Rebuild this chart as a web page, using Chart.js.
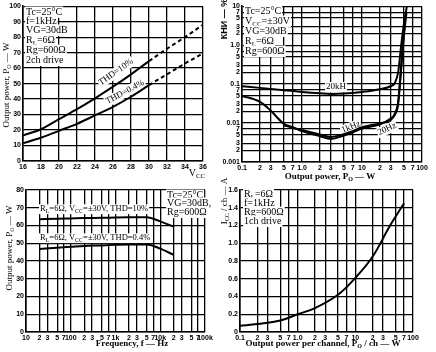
<!DOCTYPE html>
<html>
<head>
<meta charset="utf-8">
<script src="https://cdn.jsdelivr.net/npm/chart.js@4.4.1/dist/chart.umd.min.js"></script>
<style>
  html, body { margin: 0; padding: 0; background: #fff; }
  #wrap { position: relative; width: 436px; height: 352px; overflow: hidden; }
  canvas { position: absolute; left: 0; top: 0; }
</style>
</head>
<body>
<div id="wrap">
  <canvas id="vccChart" width="436" height="352"></canvas>
  <canvas id="thdChart" width="436" height="352"></canvas>
  <canvas id="freqChart" width="436" height="352"></canvas>
  <canvas id="iccChart" width="436" height="352"></canvas>
</div>
<script>
// ==============================
// Datos
// ==============================

// Arriba izquierda: potencia de salida vs VCC
const vccTicks = [16, 18, 20, 22, 24, 26, 28, 30, 32, 34, 36];
const poTicks = [0, 10, 20, 30, 40, 50, 60, 70, 80, 90, 100];
const vcc = [16, 18, 20, 22, 24, 26, 28, 30, 32, 34, 36];
const poThd10 = [16.5, 20.5, 27, 33.5, 40.5, 48, 56, 64.5, 72.5, 80, 88];
const poThd04 = [11.5, 15, 19.5, 24, 29.5, 35, 41.5, 49, 56, 63, 69.5];

// Arriba derecha: КНИ vs potencia de salida (log-log)
const pwTicks = [0.1, 0.2, 0.3, 0.5, 0.7, 1, 2, 3, 5, 7, 10, 20, 30, 50, 70, 100];
const pwLabels = ['0.1', '2', '3', '5', '7', '1.0', '2', '3', '5', '7', '10', '2', '3', '5', '7', '100'];
const thdTicks = [0.001, 0.002, 0.003, 0.005, 0.007, 0.01, 0.02, 0.03, 0.05, 0.07,
                  0.1, 0.2, 0.3, 0.5, 0.7, 1, 2, 3, 5, 7, 10];
const thdLabels = ['0.001', '2', '3', '5', '7', '0.01', '2', '3', '5', '7',
                   '0.1', '2', '3', '5', '7', '1.0', '2', '3', '5', '7', '10'];
const pw20k = [0.1, 0.2, 0.5, 1, 2, 3, 5, 10, 20, 30, 35, 40, 45, 50, 56];
const thd20k = [0.088, 0.08, 0.07, 0.063, 0.058, 0.056, 0.057, 0.063, 0.074, 0.088, 0.105, 0.2, 1.0, 3.5, 10];
const pw1k = [0.1, 0.2, 0.3, 0.5, 0.7, 1, 2, 3, 5, 7, 10, 20, 30, 35, 40, 45, 50, 54];
const thd1k = [0.05, 0.035, 0.021, 0.0095, 0.0078, 0.0062, 0.0046, 0.0039, 0.0048, 0.0058, 0.0072, 0.0093, 0.013, 0.017, 0.035, 0.3, 2.0, 7];
const pw20 = [0.5, 0.7, 1, 2, 3, 5, 7, 10, 20, 30, 35, 40, 45, 50, 55];
const thd20 = [0.0088, 0.0075, 0.0066, 0.0051, 0.0044, 0.0052, 0.0062, 0.0078, 0.0098, 0.012, 0.016, 0.03, 0.25, 1.8, 6.5];

// Abajo izquierda: potencia de salida vs frecuencia
const freqTicks = [10, 20, 30, 50, 70, 100, 200, 300, 500, 700, 1000, 2000, 3000, 5000, 7000,
                   10000, 20000, 30000, 50000, 70000, 100000];
const freqLabels = ['10', '2', '3', '5', '7', '100', '2', '3', '5', '7', '1k', '2', '3', '5', '7',
                    '10k', '2', '3', '5', '7', '100k'];
const freqPoTicks = [0, 10, 20, 30, 40, 50, 60, 70, 80];
const freq = [20, 50, 100, 200, 500, 1000, 2000, 5000, 10000, 20000];
const poF10 = [63.5, 63.8, 64, 64.2, 64.3, 64.5, 64.6, 64.6, 62.3, 59.3];
const poF04 = [46.8, 47.5, 48, 48.5, 48.8, 49.1, 49.3, 49.3, 47, 43.4];

// Abajo derecha: ICC por canal vs potencia por canal
const iccTicks = [0, 0.2, 0.4, 0.6, 0.8, 1.0, 1.2, 1.4, 1.6];
const iccLabels = ['0', '0.2', '0.4', '0.6', '0.8', '1.0', '1.2', '1.4', '1.6'];
const pwCh = [0.1, 0.2, 0.5, 1, 2, 5, 10, 20, 40, 70];
const iccCh = [0.07, 0.09, 0.13, 0.2, 0.27, 0.42, 0.61, 0.85, 1.2, 1.45];

// ==============================
// Texto con subíndices (_{..})
// ==============================
function splitParts(str) {
  const out = [];
  const re = /_\{([^}]*)\}/g;
  let last = 0, m;
  while ((m = re.exec(str))) {
    if (m.index > last) out.push({ s: str.slice(last, m.index), sub: false });
    out.push({ s: m[1], sub: true });
    last = re.lastIndex;
  }
  if (last < str.length) out.push({ s: str.slice(last), sub: false });
  return out;
}

function drawText(ctx, n) {
  const size = n.size || 10;
  const fam = n.fam || '"Liberation Serif", "Times New Roman", serif';
  const wt = n.bold ? 'bold ' : '';
  const big = wt + size + 'px ' + fam;
  const small = wt + Math.round(size * 0.72) + 'px ' + fam;
  const segs = splitParts(n.t);
  let w = 0;
  segs.forEach(s => { ctx.font = s.sub ? small : big; s.w = ctx.measureText(s.s).width; w += s.w; });
  ctx.save();
  ctx.translate(n.x, n.y);
  if (n.rot) ctx.rotate(n.rot * Math.PI / 180);
  let x0 = n.left ? 0 : -w / 2;
  if (n.bg) {
    ctx.fillStyle = '#fff';
    ctx.fillRect(x0 - 1, -size * 0.55, w + 2, size * 1.15);
  }
  ctx.fillStyle = '#000';
  ctx.textBaseline = 'middle';
  ctx.textAlign = 'left';
  segs.forEach(s => {
    ctx.font = s.sub ? small : big;
    ctx.fillText(s.s, x0, s.sub ? size * 0.3 : 0);
    x0 += s.w;
  });
  ctx.restore();
}

// ==============================
// Helpers de ejes y gráficas
// ==============================
function axis(type, min, max, ticks, labels) {
  return {
    type, min, max,
    afterBuildTicks: s => { s.ticks = ticks.map(v => ({ value: v })); },
    ticks: {
      autoSkip: false, maxRotation: 0, minRotation: 0, padding: 2, color: '#000',
      font: { family: '"Liberation Sans", Arial, sans-serif', size: 7, weight: 'bold' },
      callback: (v, i) => labels[i]
    },
    grid: { color: '#000', lineWidth: 1.3, drawTicks: false },
    border: { color: '#000', width: 1.6 }
  };
}

function pts(xs, ys) {
  return xs.map((x, i) => ({ x, y: ys[i] }));
}

function makeChart(id, box, xAxis, yAxis, datasets, notes) {
  const { qx, l, t, r, b, qb } = box;
  xAxis.afterFit = s => { s.height = qb - b; };
  yAxis.afterFit = s => { s.width = l - qx; };
  return new Chart(document.getElementById(id), {
    type: 'line',
    data: { datasets },
    options: {
      responsive: false,
      animation: false,
      layout: { padding: { left: qx, top: t, right: 436 - r, bottom: 352 - qb } },
      plugins: { legend: { display: false }, tooltip: { enabled: false } },
      elements: {
        point: { radius: 0 },
        line: { borderColor: '#000', borderWidth: 2, cubicInterpolationMode: 'monotone' }
      },
      scales: { x: xAxis, y: yAxis }
    },
    plugins: [{
      id: 'notes',
      beforeDatasetsDraw(chart) { notes.forEach(n => drawText(chart.ctx, n)); }
    }]
  });
}

const dashAfter30 = { borderDash: c => c.p0.parsed.x >= 30 ? [4, 3] : undefined };

// Arriba izquierda
makeChart('vccChart', { qx: 0, l: 23, t: 5, r: 203, b: 161, qb: 171 },
  axis('linear', 16, 36, vccTicks, vccTicks.map(String)),
  axis('linear', 0, 100, poTicks, poTicks.map(String)),
  [
    { data: pts(vcc, poThd10), segment: dashAfter30 },
    { data: pts(vcc, poThd04), segment: dashAfter30 }
  ],
  [
    { t: 'Tc=25°C', x: 26, y: 12, left: true, bg: true },
    { t: 'f=1kHz', x: 26, y: 21, left: true, bg: true },
    { t: 'VG=30dB', x: 26, y: 30, left: true, bg: true },
    { t: 'R_{L}=6Ω', x: 26, y: 40, left: true, bg: true },
    { t: 'Rg=600Ω', x: 26, y: 50, left: true, bg: true },
    { t: '2ch drive', x: 26, y: 60, left: true, bg: true },
    { t: 'THD=10%', x: 116, y: 72, rot: -35, bg: true, size: 9 },
    { t: 'THD=0.4%', x: 125, y: 92, rot: -28, bg: true, size: 9 },
    { t: 'Output power, P_{O} — W', x: 7, y: 85, rot: -90, size: 9 },
    { t: 'V_{CC}', x: 197, y: 173, size: 10 }
  ]);

// Arriba derecha
makeChart('thdChart', { qx: 218, l: 242, t: 5, r: 422, b: 162, qb: 172 },
  axis('logarithmic', 0.1, 100, pwTicks, pwLabels),
  axis('logarithmic', 0.001, 10, thdTicks, thdLabels),
  [
    { data: pts(pw20k, thd20k) },
    { data: pts(pw1k, thd1k) },
    { data: pts(pw20, thd20) }
  ],
  [
    { t: 'Tc=25°C', x: 245, y: 11, left: true, bg: true },
    { t: 'V_{CC}=±30V', x: 245, y: 21, left: true, bg: true },
    { t: 'VG=30dB', x: 245, y: 31, left: true, bg: true },
    { t: 'R_{L}=6Ω', x: 245, y: 41, left: true, bg: true },
    { t: 'Rg=600Ω', x: 245, y: 51, left: true, bg: true },
    { t: '20kH', x: 336, y: 87, bg: true, size: 9 },
    { t: '1kHz', x: 351, y: 127, rot: -22, bg: true, size: 9 },
    { t: '20Hz', x: 387, y: 129, rot: -25, bg: true, size: 9 },
    { t: 'КНИ — %', x: 225, y: 19, rot: -90, bold: true, size: 9,
      fam: '"Liberation Sans", Arial, sans-serif' },
    { t: 'Output power, P_{O} — W', x: 330, y: 177, size: 9, bold: true }
  ]);

// Abajo izquierda
makeChart('freqChart', { qx: 0, l: 26, t: 190, r: 205, b: 332, qb: 342 },
  axis('logarithmic', 10, 100000, freqTicks, freqLabels),
  axis('linear', 0, 80, freqPoTicks, freqPoTicks.map(String)),
  [
    { data: pts(freq, poF10) },
    { data: pts(freq, poF04) }
  ],
  [
    { t: 'Tc=25°C', x: 167, y: 195, left: true, bg: true },
    { t: 'VG=30dB,', x: 167, y: 203, left: true, bg: true },
    { t: 'Rg=600Ω', x: 167, y: 212, left: true, bg: true },
    { t: 'R_{L}=6Ω, V_{CC}=±30V, THD=10%', x: 40, y: 209, left: true, bg: true, size: 8.5 },
    { t: 'R_{L}=6Ω, V_{CC}=±30V, THD=0.4%', x: 40, y: 238, left: true, bg: true, size: 8.5 },
    { t: 'Output power, P_{O} — W', x: 10, y: 248, rot: -90, size: 9 },
    { t: 'Frequency, f — Hz', x: 132, y: 344, size: 9, bold: true }
  ]);

// Abajo derecha
makeChart('iccChart', { qx: 218, l: 240, t: 190, r: 413, b: 332, qb: 342 },
  axis('logarithmic', 0.1, 100, pwTicks, pwLabels),
  axis('linear', 0, 1.6, iccTicks, iccLabels),
  [
    { data: pts(pwCh, iccCh), cubicInterpolationMode: 'default', tension: 0.4 }
  ],
  [
    { t: 'R_{L}=6Ω', x: 244, y: 194, left: true, bg: true },
    { t: 'f=1kHz', x: 244, y: 203, left: true, bg: true },
    { t: 'Rg=600Ω', x: 244, y: 212, left: true, bg: true },
    { t: '1ch drive', x: 244, y: 221, left: true, bg: true },
    { t: 'I_{CC} / ch — A', x: 225, y: 201, rot: -90, size: 9 },
    { t: 'Output power per channel, P_{O} / ch — W', x: 323, y: 344, size: 9, bold: true }
  ]);
</script>
</body>
</html>
